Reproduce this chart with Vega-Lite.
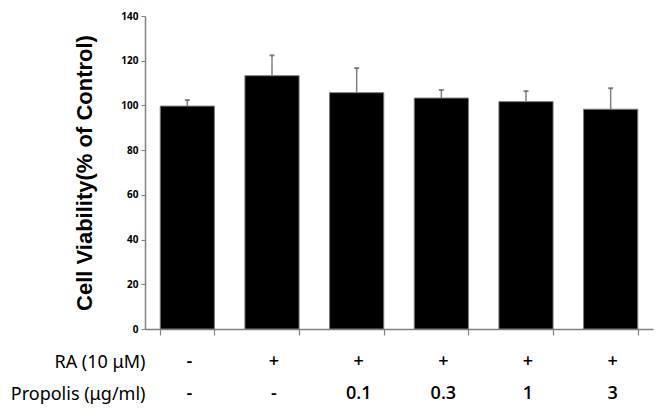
{
  "$schema": "https://vega.github.io/schema/vega-lite/v6.json",
  "padding": {"left": 10, "top": 11, "right": 10, "bottom": 5},
  "background": "white",
  "config": {"view": {"stroke": null}, "font": "Noto Sans"},
  "spacing": 10,
  "datasets": {
    "bars": [
      {"group": "Control", "RA": "-", "Propolis": "-", "viability": 99.7, "upper": 102.4},
      {"group": "RA", "RA": "+", "Propolis": "-", "viability": 113.3, "upper": 122.4},
      {"group": "RA+P0.1", "RA": "+", "Propolis": "0.1", "viability": 105.7, "upper": 116.7},
      {"group": "RA+P0.3", "RA": "+", "Propolis": "0.3", "viability": 103.3, "upper": 106.9},
      {"group": "RA+P1", "RA": "+", "Propolis": "1", "viability": 101.7, "upper": 106.4},
      {"group": "RA+P3", "RA": "+", "Propolis": "3", "viability": 98.3, "upper": 107.7}
    ]
  },
  "vconcat": [
    {
      "width": 508,
      "height": 313,
      "data": {"name": "bars"},
      "encoding": {
        "x": {
          "field": "group", "type": "nominal", "sort": null,
          "scale": {"paddingInner": 0.36, "paddingOuter": 0.18},
          "axis": {"title": null, "labels": false, "tickBand": "extent", "tickSize": 6, "domainColor": "#808080", "tickColor": "#808080", "domainWidth": 1.5, "tickWidth": 1.2}
        }
      },
      "layer": [
        {
          "mark": {"type": "bar", "color": "black", "stroke": "#7a7a7a", "strokeWidth": 1},
          "encoding": {
            "y": {
              "field": "viability", "type": "quantitative",
              "scale": {"domain": [0, 140]},
              "axis": {
                "title": "Cell Viability(% of Control)",
                "titleFont": "Liberation Sans", "titleFontSize": 22, "titleFontWeight": "bold", "titleColor": "black", "titlePadding": 24,
                "values": [0, 20, 40, 60, 80, 100, 120, 140],
                "grid": false, "labelFontSize": 10, "labelFontWeight": "bold", "labelColor": "black", "labelPadding": 3,
                "tickSize": 4, "domainColor": "#808080", "tickColor": "#808080", "domainWidth": 1.5
              }
            }
          }
        },
        {
          "mark": {"type": "rule", "color": "#808080", "strokeWidth": 1.5},
          "encoding": {"y": {"field": "viability", "type": "quantitative"}, "y2": {"field": "upper"}}
        },
        {
          "mark": {"type": "tick", "color": "#555555", "thickness": 2, "size": 5},
          "encoding": {"y": {"field": "upper", "type": "quantitative"}}
        }
      ]
    },
    {
      "width": 508,
      "height": 64,
      "data": {"name": "bars"},
      "transform": [{"fold": ["RA", "Propolis"], "as": ["row", "sign"]}],
      "mark": {"type": "text", "fontSize": 18, "color": "black", "font": "Open Sans", "fontWeight": 600, "dx": 2},
      "encoding": {
        "x": {"field": "group", "type": "nominal", "sort": null, "scale": {"paddingInner": 0.36, "paddingOuter": 0.18}, "axis": null},
        "y": {
          "field": "row", "type": "nominal", "sort": ["RA", "Propolis"],
          "scale": {"paddingInner": 0, "paddingOuter": 0},
          "axis": {
            "title": null, "domain": false, "ticks": false, "labelPadding": 0,
            "labelFontSize": 18, "labelColor": "black", "labelFont": "Noto Sans",
            "labelExpr": "datum.value == 'RA' ? 'RA (10 μM)' : 'Propolis (μg/ml)'"
          }
        },
        "text": {"field": "sign"}
      }
    }
  ]
}
